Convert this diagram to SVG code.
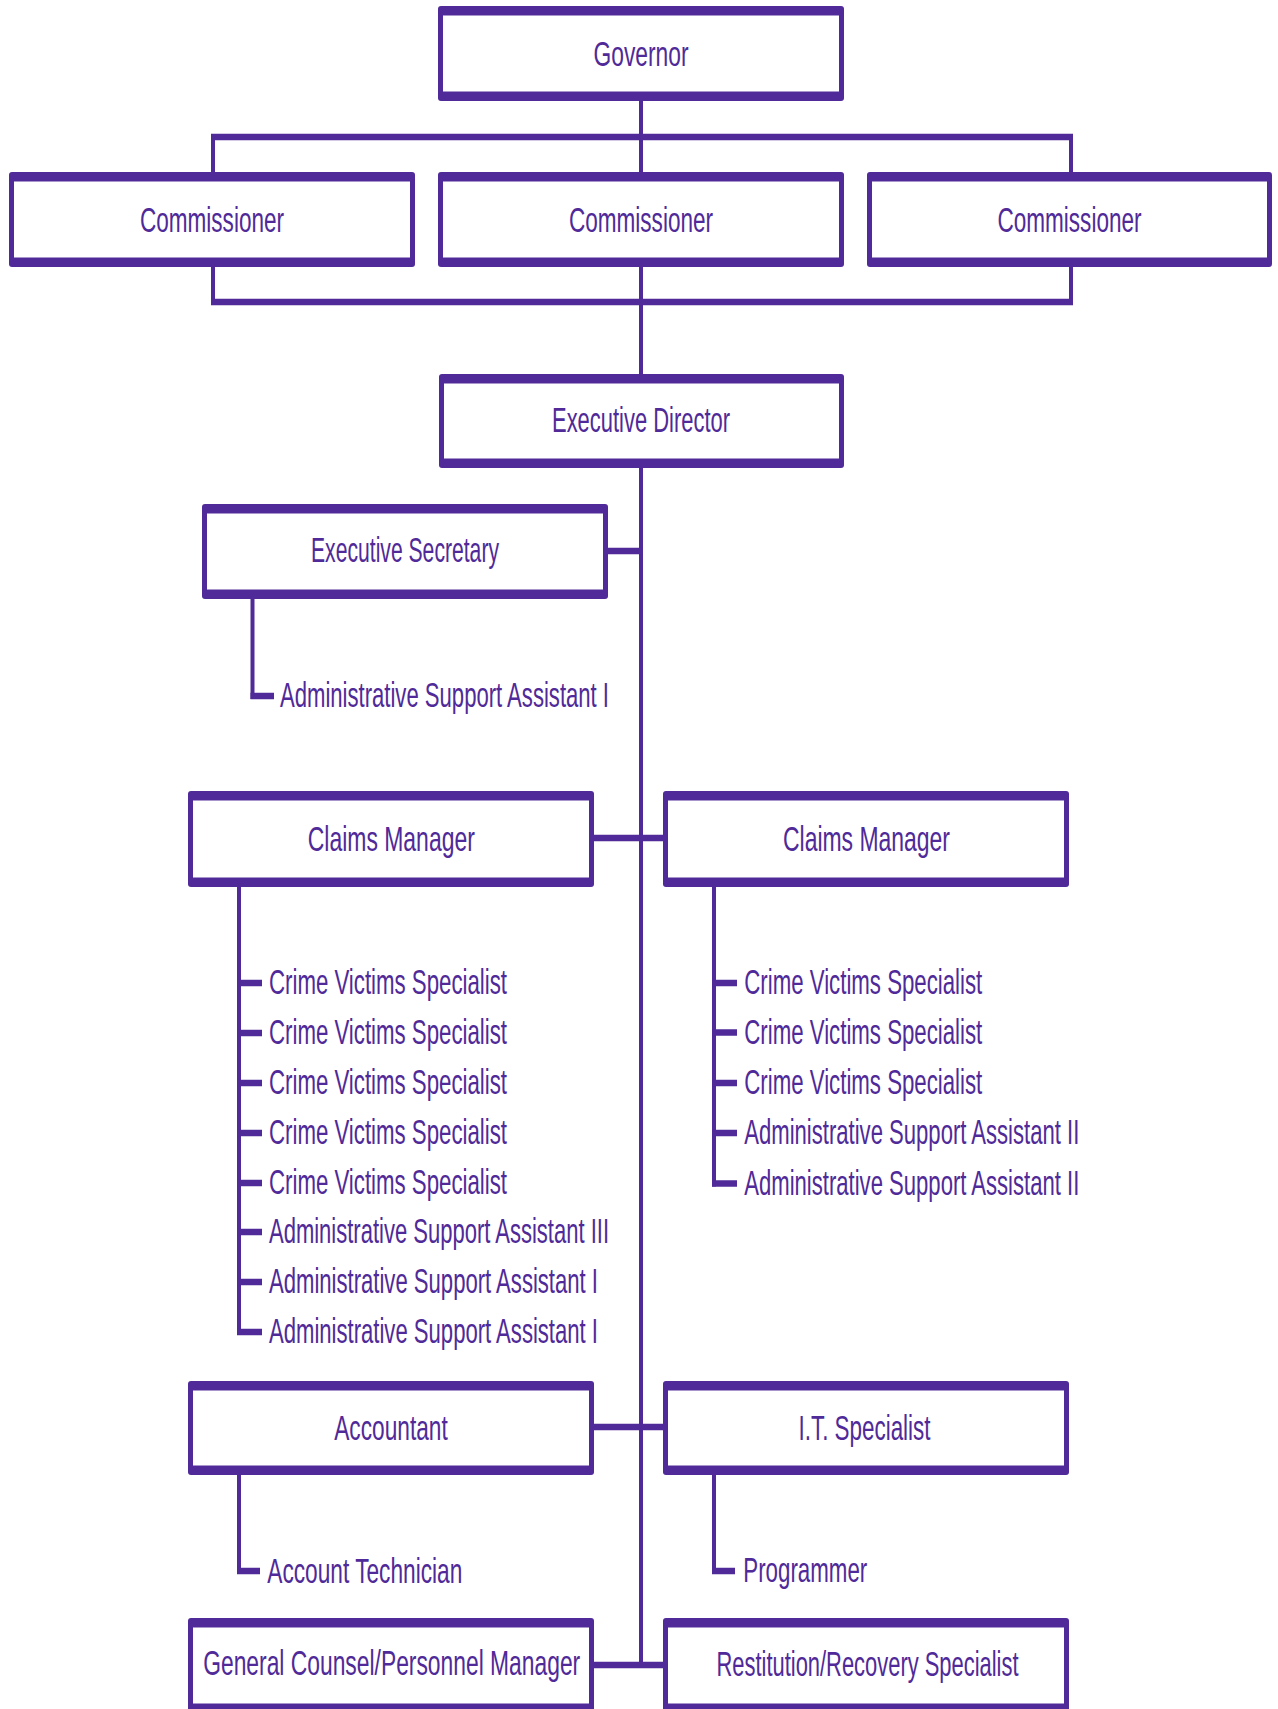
<svg xmlns="http://www.w3.org/2000/svg" width="1278" height="1709" viewBox="0 0 1278 1709">
<style>
.bo{fill:#4F2A98}
.bi{fill:#ffffff}
.t{font-family:"Liberation Sans",Arial,sans-serif;font-size:22px;fill:#4F2A98}
.c{text-anchor:middle}
.h{stroke:#4F2A98;stroke-width:6.5;fill:none}
.v{stroke:#4F2A98;stroke-width:4;fill:none}
</style>
<rect width="1278" height="1709" fill="#ffffff"/>
<g id="connectors">
<line class="v" x1="641" y1="100" x2="641" y2="172"/>
<line class="h" x1="211" y1="137" x2="1073" y2="137"/>
<line class="v" x1="213" y1="137" x2="213" y2="172"/>
<line class="v" x1="1071" y1="137" x2="1071" y2="172"/>
<line class="v" x1="213" y1="266" x2="213" y2="302"/>
<line class="v" x1="1071" y1="266" x2="1071" y2="302"/>
<line class="v" x1="641" y1="266" x2="641" y2="374"/>
<line class="h" x1="211" y1="302" x2="1073" y2="302"/>
<line class="v" x1="641" y1="467" x2="641" y2="1668"/>
<line class="h" x1="607" y1="551" x2="643" y2="551"/>
<line class="h" x1="593" y1="838" x2="664" y2="838"/>
<line class="h" x1="593" y1="1427" x2="664" y2="1427"/>
<line class="h" x1="593" y1="1665" x2="664" y2="1665"/>
<line class="v" x1="252.5" y1="598" x2="252.5" y2="699"/>
<line class="h" x1="250.5" y1="696" x2="274" y2="696"/>
<line class="v" x1="239" y1="886" x2="239" y2="1335"/>
<line class="h" x1="237" y1="983" x2="262" y2="983"/>
<line class="h" x1="237" y1="1033" x2="262" y2="1033"/>
<line class="h" x1="237" y1="1083" x2="262" y2="1083"/>
<line class="h" x1="237" y1="1133" x2="262" y2="1133"/>
<line class="h" x1="237" y1="1183" x2="262" y2="1183"/>
<line class="h" x1="237" y1="1232" x2="262" y2="1232"/>
<line class="h" x1="237" y1="1282" x2="262" y2="1282"/>
<line class="h" x1="237" y1="1332" x2="262" y2="1332"/>
<line class="v" x1="714" y1="886" x2="714" y2="1186.5"/>
<line class="h" x1="712" y1="983" x2="737" y2="983"/>
<line class="h" x1="712" y1="1032.5" x2="737" y2="1032.5"/>
<line class="h" x1="712" y1="1083" x2="737" y2="1083"/>
<line class="h" x1="712" y1="1133" x2="737" y2="1133"/>
<line class="h" x1="712" y1="1183.5" x2="737" y2="1183.5"/>
<line class="v" x1="239" y1="1474" x2="239" y2="1574"/>
<line class="h" x1="237" y1="1571" x2="260" y2="1571"/>
<line class="v" x1="714" y1="1474" x2="714" y2="1574"/>
<line class="h" x1="712" y1="1571" x2="735" y2="1571"/>
</g>
<g id="governor"><rect class="bo" x="438" y="6" width="406" height="95" rx="3"/><rect class="bi" x="443" y="15.5" width="396" height="76"/><text class="t c" x="641" y="0" transform="translate(0,65.5) scale(1,1.636)" textLength="95" lengthAdjust="spacingAndGlyphs">Governor</text></g>
<g id="commissioner1"><rect class="bo" x="9" y="172" width="406" height="95" rx="3"/><rect class="bi" x="14" y="181.5" width="396" height="76"/><text class="t c" x="212" y="0" transform="translate(0,231.7) scale(1,1.636)" textLength="144" lengthAdjust="spacingAndGlyphs">Commissioner</text></g>
<g id="commissioner2"><rect class="bo" x="438" y="172" width="406" height="95" rx="3"/><rect class="bi" x="443" y="181.5" width="396" height="76"/><text class="t c" x="641" y="0" transform="translate(0,231.7) scale(1,1.636)" textLength="144" lengthAdjust="spacingAndGlyphs">Commissioner</text></g>
<g id="commissioner3"><rect class="bo" x="867" y="172" width="405" height="95" rx="3"/><rect class="bi" x="872" y="181.5" width="395" height="76"/><text class="t c" x="1069.5" y="0" transform="translate(0,231.7) scale(1,1.636)" textLength="144" lengthAdjust="spacingAndGlyphs">Commissioner</text></g>
<g id="executive-director"><rect class="bo" x="439" y="374" width="405" height="94" rx="3"/><rect class="bi" x="444" y="383.5" width="395" height="75"/><text class="t c" x="641" y="0" transform="translate(0,431.7) scale(1,1.636)" textLength="178" lengthAdjust="spacingAndGlyphs">Executive Director</text></g>
<g id="executive-secretary"><rect class="bo" x="202" y="504" width="406" height="95" rx="3"/><rect class="bi" x="207" y="513.5" width="396" height="76"/><text class="t c" x="405" y="0" transform="translate(0,562) scale(1,1.636)" textLength="188" lengthAdjust="spacingAndGlyphs">Executive Secretary</text></g>
<g id="es-asa1"><text class="t" x="280" y="0" transform="translate(0,706.5) scale(1,1.636)" textLength="329" lengthAdjust="spacingAndGlyphs">Administrative Support Assistant I</text></g>
<g id="claims-manager-1"><rect class="bo" x="188" y="791" width="406" height="96" rx="3"/><rect class="bi" x="193" y="800.5" width="396" height="77"/><text class="t c" x="391.3" y="0" transform="translate(0,850.7) scale(1,1.636)" textLength="167" lengthAdjust="spacingAndGlyphs">Claims Manager</text></g>
<g id="claims-manager-2"><rect class="bo" x="663" y="791" width="406" height="96" rx="3"/><rect class="bi" x="668" y="800.5" width="396" height="77"/><text class="t c" x="866.5" y="0" transform="translate(0,850.7) scale(1,1.636)" textLength="167" lengthAdjust="spacingAndGlyphs">Claims Manager</text></g>
<g id="cm1-staff">
<text class="t" x="269" y="0" transform="translate(0,994) scale(1,1.636)" textLength="238" lengthAdjust="spacingAndGlyphs">Crime Victims Specialist</text>
<text class="t" x="269" y="0" transform="translate(0,1044) scale(1,1.636)" textLength="238" lengthAdjust="spacingAndGlyphs">Crime Victims Specialist</text>
<text class="t" x="269" y="0" transform="translate(0,1094) scale(1,1.636)" textLength="238" lengthAdjust="spacingAndGlyphs">Crime Victims Specialist</text>
<text class="t" x="269" y="0" transform="translate(0,1144) scale(1,1.636)" textLength="238" lengthAdjust="spacingAndGlyphs">Crime Victims Specialist</text>
<text class="t" x="269" y="0" transform="translate(0,1194) scale(1,1.636)" textLength="238" lengthAdjust="spacingAndGlyphs">Crime Victims Specialist</text>
<text class="t" x="269" y="0" transform="translate(0,1243.3) scale(1,1.636)" textLength="340" lengthAdjust="spacingAndGlyphs">Administrative Support Assistant III</text>
<text class="t" x="269" y="0" transform="translate(0,1293.3) scale(1,1.636)" textLength="329" lengthAdjust="spacingAndGlyphs">Administrative Support Assistant I</text>
<text class="t" x="269" y="0" transform="translate(0,1343.3) scale(1,1.636)" textLength="329" lengthAdjust="spacingAndGlyphs">Administrative Support Assistant I</text>
</g>
<g id="cm2-staff">
<text class="t" x="744.3" y="0" transform="translate(0,993.5) scale(1,1.636)" textLength="238" lengthAdjust="spacingAndGlyphs">Crime Victims Specialist</text>
<text class="t" x="744.3" y="0" transform="translate(0,1043.5) scale(1,1.636)" textLength="238" lengthAdjust="spacingAndGlyphs">Crime Victims Specialist</text>
<text class="t" x="744.3" y="0" transform="translate(0,1094) scale(1,1.636)" textLength="238" lengthAdjust="spacingAndGlyphs">Crime Victims Specialist</text>
<text class="t" x="744.3" y="0" transform="translate(0,1144) scale(1,1.636)" textLength="335" lengthAdjust="spacingAndGlyphs">Administrative Support Assistant II</text>
<text class="t" x="744.3" y="0" transform="translate(0,1194.5) scale(1,1.636)" textLength="335" lengthAdjust="spacingAndGlyphs">Administrative Support Assistant II</text>
</g>
<g id="accountant"><rect class="bo" x="188" y="1381" width="406" height="94" rx="3"/><rect class="bi" x="193" y="1390.5" width="396" height="75"/><text class="t c" x="391" y="0" transform="translate(0,1440) scale(1,1.636)" textLength="113.5" lengthAdjust="spacingAndGlyphs">Accountant</text></g>
<g id="it-specialist"><rect class="bo" x="663" y="1381" width="406" height="94" rx="3"/><rect class="bi" x="668" y="1390.5" width="396" height="75"/><text class="t c" x="864.5" y="0" transform="translate(0,1440) scale(1,1.636)" textLength="132" lengthAdjust="spacingAndGlyphs">I.T. Specialist</text></g>
<g id="account-technician"><text class="t" x="267.3" y="0" transform="translate(0,1582.7) scale(1,1.636)" textLength="195" lengthAdjust="spacingAndGlyphs">Account Technician</text></g>
<g id="programmer"><text class="t" x="743.3" y="0" transform="translate(0,1582) scale(1,1.636)" textLength="124" lengthAdjust="spacingAndGlyphs">Programmer</text></g>
<g id="general-counsel"><rect class="bo" x="188" y="1618" width="406" height="95" rx="3"/><rect class="bi" x="193" y="1627.5" width="396" height="76"/><text class="t c" x="391.7" y="0" transform="translate(0,1675) scale(1,1.636)" textLength="377" lengthAdjust="spacingAndGlyphs">General Counsel/Personnel Manager</text></g>
<g id="restitution"><rect class="bo" x="663" y="1618" width="406" height="95" rx="3"/><rect class="bi" x="668" y="1627.5" width="396" height="76"/><text class="t c" x="867.5" y="0" transform="translate(0,1676) scale(1,1.636)" textLength="302" lengthAdjust="spacingAndGlyphs">Restitution/Recovery Specialist</text></g>
</svg>
